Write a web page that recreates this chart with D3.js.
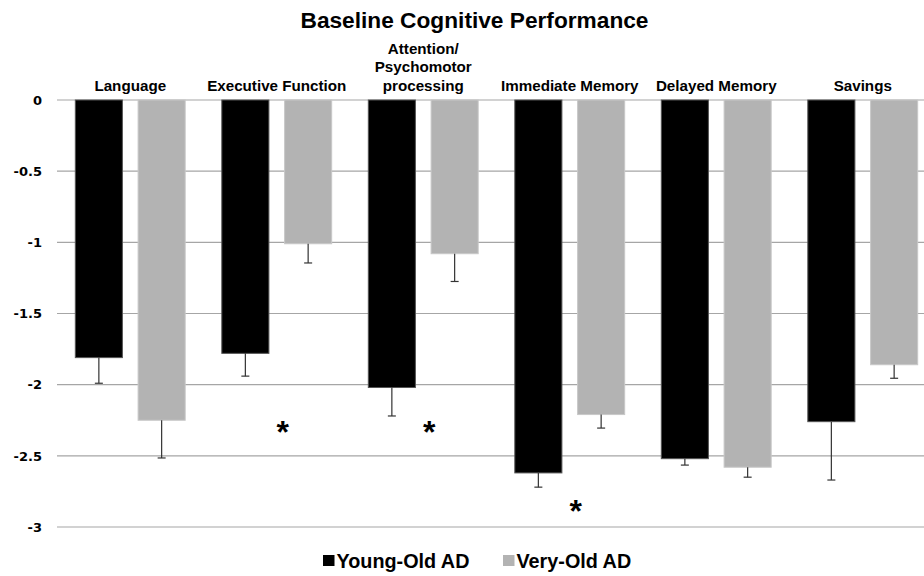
<!DOCTYPE html>
<html><head><meta charset="utf-8">
<script src="https://cdn.jsdelivr.net/npm/d3@7"></script>
<style>body{margin:0;background:#fff;} svg{display:block;font-family:"Liberation Sans",Arial,sans-serif;}</style>
</head><body>
<svg id="c" width="924" height="576"></svg>
<script>
const categories = [["Language"],["Executive Function"],["Attention/","Psychomotor","processing"],["Immediate Memory"],["Delayed Memory"],["Savings"]];
const series = ["Young-Old AD","Very-Old AD"];
const youngOld = [-1.81,-1.78,-2.02,-2.62,-2.52,-2.26];
const veryOld  = [-2.25,-1.01,-1.08,-2.21,-2.58,-1.86];
const youngErr = [0.18,0.16,0.20,0.10,0.045,0.41];
const veryErr  = [0.265,0.135,0.195,0.095,0.07,0.095];
const yTicks = [0,-0.5,-1,-1.5,-2,-2.5,-3];
const significant = [1,2,3];           // categories with asterisk
const asteriskY = [null,-2.30,-2.30,-2.85];

const svg = d3.select("#c");
const colors = ["#000000","#b3b3b3"];
const x = d3.scaleBand().domain(d3.range(categories.length)).range([57,936]).paddingInner(0.25).paddingOuter(0.125);
const x1 = d3.scaleBand().domain([0,1]).range([0,x.bandwidth()]).paddingInner(0.25);
const y = d3.scaleLinear().domain([-3,0]).range([527,100]);

// title
svg.append("text").attr("x",474.5).attr("y",27.5).attr("text-anchor","middle")
  .attr("font-size",22.7).attr("font-weight","bold").text("Baseline Cognitive Performance");

// gridlines
svg.append("g").selectAll("line").data(yTicks).join("line")
  .attr("x1",57).attr("x2",924).attr("y1",d=>y(d)).attr("y2",d=>y(d))
  .attr("stroke","#a6a6a6").attr("stroke-width",1.2);

// y axis labels
const yAxis = d3.axisLeft(y).tickValues(yTicks).tickSize(0).tickPadding(0).tickFormat(d=>String(d));
const ga = svg.append("g").attr("transform","translate(42,0)").call(yAxis);
ga.select(".domain").remove();
ga.selectAll("text").attr("font-size",13).attr("font-weight","bold").attr("fill","#000")
  .attr("font-family","DejaVu Sans, Verdana, sans-serif");

// category labels
const cl = svg.append("g").selectAll("text").data(categories).join("text")
  .attr("text-anchor","middle").attr("font-size",15.2).attr("font-weight","bold")
  .attr("x",(d,i)=>x(i)+x.bandwidth()/2);
cl.each(function(d){
  const t = d3.select(this);
  d.forEach((line,j)=>{
    t.append("tspan").attr("x",t.attr("x")).attr("y",91-(d.length-1-j)*18.6).text(line);
  });
});

// bars
const data = [youngOld, veryOld];
const errs = [youngErr, veryErr];
series.forEach((s,si)=>{
  const g = svg.append("g");
  g.selectAll("rect").data(data[si]).join("rect")
    .attr("x",(d,i)=>x(i)+x1(si)).attr("width",x1.bandwidth())
    .attr("y",y(0)).attr("height",d=>y(d)-y(0))
    .attr("fill",colors[si]).attr("stroke",si===0?"#555":"#c8c8c8").attr("stroke-width",1);
  // error bars (downward)
  const eg = svg.append("g").attr("stroke","#333").attr("stroke-width",1.2);
  data[si].forEach((d,i)=>{
    const cx = x(i)+x1(si)+x1.bandwidth()/2;
    eg.append("line").attr("x1",cx).attr("x2",cx).attr("y1",y(d)).attr("y2",y(d-errs[si][i]));
    eg.append("line").attr("x1",cx-4).attr("x2",cx+4).attr("y1",y(d-errs[si][i])).attr("y2",y(d-errs[si][i]));
  });
});

// asterisks
svg.append("g").selectAll("text").data(significant).join("text")
  .attr("x",i=>x(i)+x.bandwidth()/2+6).attr("y",i=>y(asteriskY[i])+16)
  .attr("text-anchor","middle").attr("font-size",32).attr("font-weight","bold").text("*");

// legend
const lg = svg.append("g").attr("transform","translate(323,555)");
const legendX = [0,180];
series.forEach((s,si)=>{
  lg.append("rect").attr("x",legendX[si]).attr("y",0).attr("width",11.5).attr("height",11).attr("fill",colors[si]);
  lg.append("text").attr("x",legendX[si]+13.5).attr("y",12.5).attr("font-size",19.8).attr("font-weight","bold").text(s);
});
</script>
</body></html>
